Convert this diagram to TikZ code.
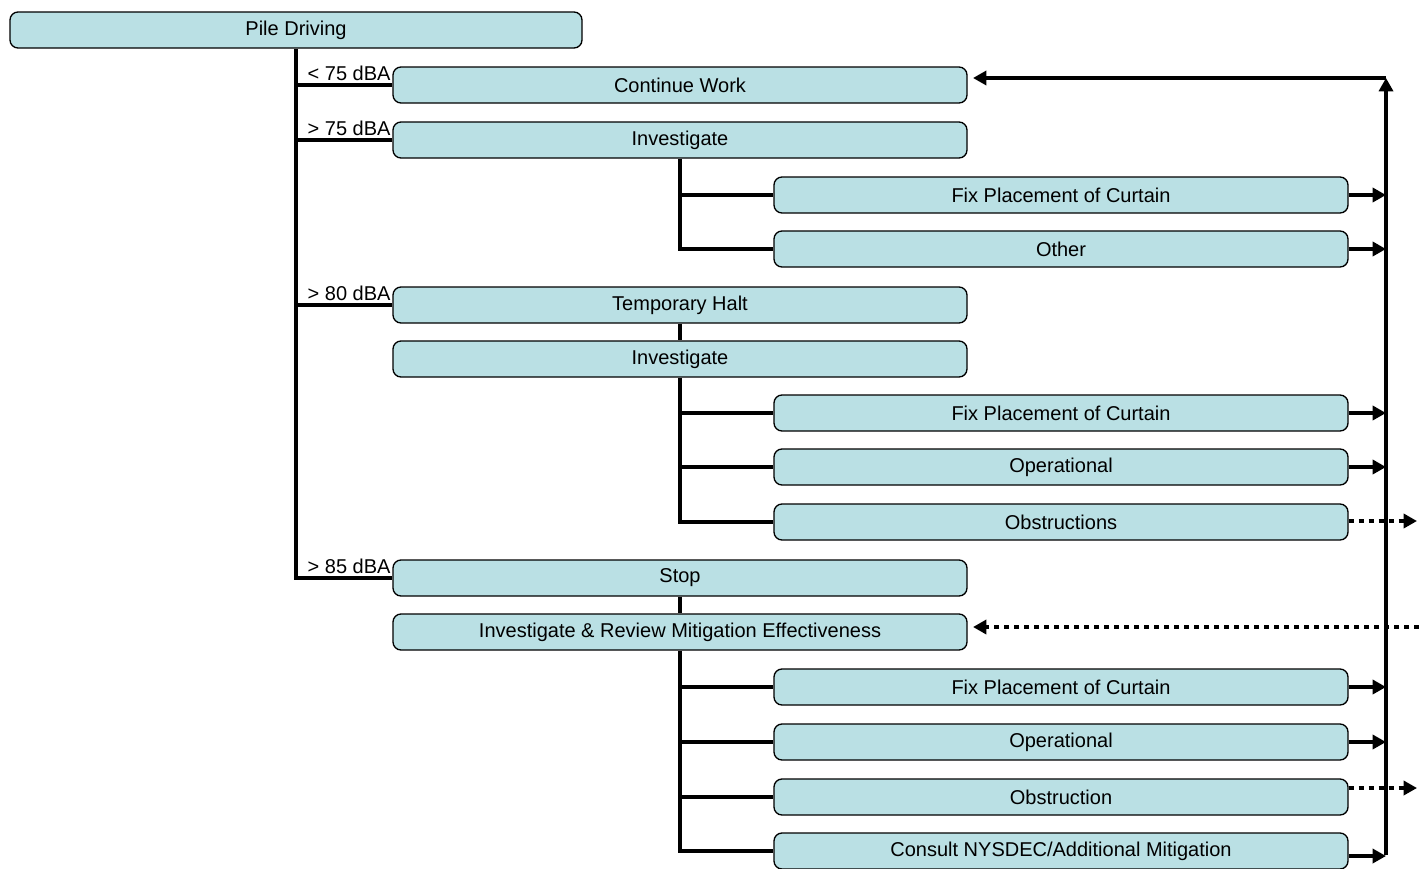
\documentclass[tikz,border=0pt]{standalone}
\usepackage{fontspec}
\setmainfont{Liberation Sans}
\usetikzlibrary{arrows.meta}

\definecolor{boxfill}{RGB}{186,224,228}

\tikzset{every picture/.style={line width=0.75pt}}
\tikzset{
  box/.style={draw, rounded corners=6pt, fill=boxfill, line width=1pt,
    minimum width=430.5pt, minimum height=27pt, inner sep=0pt,
    font=\fontsize{15}{17}\selectfont},
  lbl/.style={inner sep=0pt, font=\fontsize{15}{17}\selectfont},
  trunk/.style={line width=3pt},
  ret/.style={line width=3pt, -{Triangle[length=10pt,width=10.5pt]}},
  retdot/.style={ret, dash pattern=on 3.75pt off 3.75pt}
}

\begin{document}
\begin{tikzpicture}[x=0.75pt,y=0.75pt,yscale=-1,xscale=1]
\path[use as bounding box] (0,0) rectangle (1419,868);
% Box: top
\node[box, minimum width=429pt] (pile) at (296,30) {Pile Driving};
% Box: first level
\node[box] (cont) at (680,85) {Continue Work};
\node[box] (invA) at (680,140) {Investigate};
\node[box] (halt) at (680,305) {Temporary Halt};
\node[box] (invB) at (680,359) {Investigate};
\node[box] (stop) at (680,578) {Stop};
\node[box] (invC) at (680,632) {Investigate \& Review Mitigation Effectiveness};
% Box: second level
\node[box] (fixA) at (1061,195) {Fix Placement of Curtain};
\node[box] (othA) at (1061,249) {Other};
\node[box] (fixB) at (1061,413) {Fix Placement of Curtain};
\node[box] (opB) at (1061,467) {Operational};
\node[box] (obsB) at (1061,522) {Obstructions};
\node[box] (fixC) at (1061,687) {Fix Placement of Curtain};
\node[box] (opC) at (1061,742) {Operational};
\node[box] (obsC) at (1061,797) {Obstruction};
\node[box] (cons) at (1061,851) {Consult NYSDEC/Additional Mitigation};
% Text Node: thresholds
\node[lbl, anchor=base east] (lowA) at ([xshift=-1pt,yshift=-3.5pt]cont.west) {< 75 dBA};
\node[lbl, anchor=base east] (lowB) at ([xshift=-1pt,yshift=-3.5pt]invA.west) {> 75 dBA};
\node[lbl, anchor=base east] (lowC) at ([xshift=-1pt,yshift=-3.5pt]halt.west) {> 80 dBA};
\node[lbl, anchor=base east] (lowD) at ([xshift=-1pt,yshift=-3.5pt]stop.west) {> 85 dBA};
% Lines: main trunk
\draw[trunk] (pile.south) -- (pile.south |- stop.west) -- (stop.west);
\draw[trunk] (pile.south |- cont.west) -- (cont.west);
\draw[trunk] (pile.south |- invA.west) -- (invA.west);
\draw[trunk] (pile.south |- halt.west) -- (halt.west);
% Lines: sub trunks
\draw[trunk] (invA.south) -- (invA.south |- othA.west) -- (othA.west);
\draw[trunk] (invA.south |- fixA.west) -- (fixA.west);
\draw[trunk] (halt.south) -- (invB.north);
\draw[trunk] (invB.south) -- (invB.south |- obsB.west) -- (obsB.west);
\draw[trunk] (invB.south |- fixB.west) -- (fixB.west);
\draw[trunk] (invB.south |- opB.west) -- (opB.west);
\draw[trunk] (stop.south) -- (invC.north);
\draw[trunk] (invC.south) -- (invC.south |- cons.west) -- (cons.west);
\draw[trunk] (invC.south |- fixC.west) -- (fixC.west);
\draw[trunk] (invC.south |- opC.west) -- (opC.west);
\draw[trunk] (invC.south |- obsC.west) -- (obsC.west);
% Lines: return loop
\coordinate (rtop) at (1386,78);
\coordinate (rbot) at (1386,856);
\draw[ret] ([yshift=-1.1pt]rbot) -- (rtop);
\draw[ret] (rtop) -- ([xshift=4pt]cont.east |- rtop);
\draw[ret] (cons.east |- rbot) -- (rbot);
\draw[ret] (fixA.east) -- (fixA.east -| rtop);
\draw[ret] (othA.east) -- (othA.east -| rtop);
\draw[ret] (fixB.east) -- (fixB.east -| rtop);
\draw[ret] (opB.east) -- (opB.east -| rtop);
\draw[ret] (fixC.east) -- (fixC.east -| rtop);
\draw[ret] (opC.east) -- (opC.east -| rtop);
% Lines: dotted
\coordinate (outB) at (1417,521);
\coordinate (outC) at (1417,788);
\coordinate (inC) at (1419,627);
\draw[retdot] (obsB.east |- outB) -- (outB);
\draw[retdot] (obsC.east |- outC) -- (outC);
\draw[retdot] (inC) -- ([xshift=4pt]invC.east |- inC);
\end{tikzpicture}
\end{document}
